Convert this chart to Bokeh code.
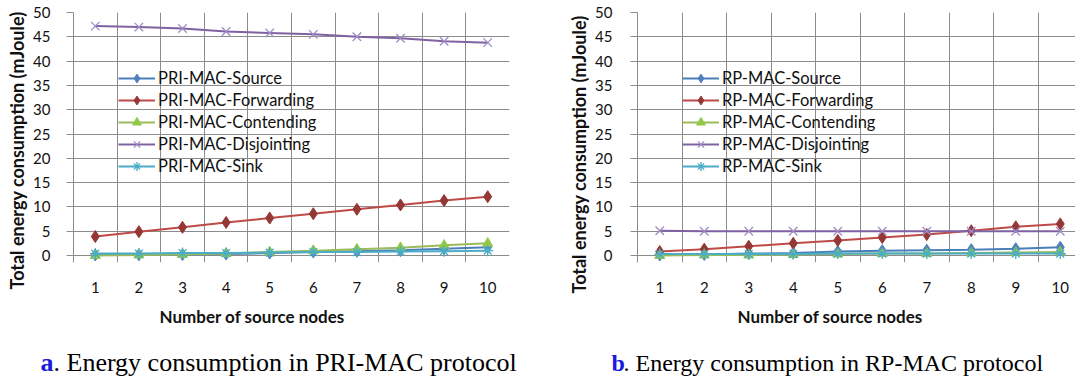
from bokeh.plotting import figure
from bokeh.models import FixedTicker, Legend, LegendItem, Range1d, Title
from bokeh.layouts import row, column
from bokeh.core.properties import value
from bokeh.embed import file_html
from bokeh.resources import INLINE

# ---------------- data ----------------
nodes = [1, 2, 3, 4, 5, 6, 7, 8, 9, 10]
y_ticks = [0, 5, 10, 15, 20, 25, 30, 35, 40, 45, 50]

pri_names = ["PRI-MAC-Source", "PRI-MAC-Forwarding", "PRI-MAC-Contending",
             "PRI-MAC-Disjointing", "PRI-MAC-Sink"]
pri_source = [0.1, 0.15, 0.2, 0.3, 0.5, 0.7, 0.9, 1.1, 1.4, 1.7]
pri_forwarding = [3.9, 4.9, 5.8, 6.8, 7.7, 8.6, 9.5, 10.4, 11.3, 12.1]
pri_contending = [0.0, 0.1, 0.2, 0.4, 0.7, 1.0, 1.3, 1.6, 2.1, 2.5]
pri_disjointing = [47.2, 47.0, 46.7, 46.1, 45.8, 45.5, 45.0, 44.7, 44.1, 43.8]
pri_sink = [0.4, 0.4, 0.5, 0.5, 0.6, 0.7, 0.7, 0.8, 0.9, 1.0]

rp_names = ["RP-MAC-Source", "RP-MAC-Forwarding", "RP-MAC-Contending",
            "RP-MAC-Disjointing", "RP-MAC-Sink"]
rp_source = [0.1, 0.2, 0.4, 0.5, 0.8, 1.0, 1.1, 1.2, 1.4, 1.7]
rp_forwarding = [0.8, 1.3, 1.9, 2.5, 3.1, 3.7, 4.3, 5.1, 5.9, 6.5]
rp_contending = [0.0, 0.1, 0.1, 0.2, 0.3, 0.4, 0.4, 0.5, 0.6, 0.7]
rp_disjointing = [5.1, 5.0, 5.0, 5.0, 5.0, 5.0, 5.0, 5.0, 5.0, 5.0]
rp_sink = [0.3, 0.3, 0.3, 0.3, 0.4, 0.4, 0.4, 0.4, 0.4, 0.4]

x_title = "Number of source nodes"
y_title = "Total energy consumption (mJoule)"
cap_letters = ["a", "b"]
cap_texts = [". Energy consumption in PRI-MAC protocol",
             ". Energy consumption in RP-MAC protocol"]

# ---------------- styles ----------------
FONT = "Lato"
GRID = "#8c8c8c"
TXT = "#111111"
styles = [
    # line color, marker, marker color, marker size
    ("#4A7EBB", "diamond", "#4F81BD", 12),
    ("#BE4B48", "diamond", "#953735", 12),
    ("#9BBB59", "triangle", "#92C84A", 10),
    ("#7F62A1", "x", "#A08CC4", 12),
    ("#4BACC6", "asterisk", "#4BACC6", 11),
]

FRAME_TOP = 12
FRAME_H = 250
CHART_H = 335
PX_Y = 243.0 / 50.0
Y0 = -(FRAME_H - 243) / PX_Y


def make_chart(series, names, width, left_border, frame_w, x_end,
               label_standoff, ytitle_offset, xtitle_offset):
    p = figure(width=width, height=CHART_H, output_backend="svg",
               toolbar_location=None,
               x_range=Range1d(0.5, x_end), y_range=Range1d(Y0, 50),
               min_border_left=left_border,
               min_border_right=width - left_border - frame_w,
               min_border_top=FRAME_TOP,
               min_border_bottom=CHART_H - FRAME_TOP - FRAME_H)
    p.outline_line_color = None
    p.background_fill_color = "white"
    p.border_fill_color = "white"

    # x axis: labels at category centres
    p.xaxis.ticker = FixedTicker(ticks=nodes)
    p.xaxis.major_tick_line_color = None
    p.xaxis.minor_tick_line_color = None
    p.xaxis.axis_line_color = None
    p.xaxis.major_label_standoff = 13
    p.xaxis.major_label_text_font = FONT
    p.xaxis.major_label_text_font_size = "15px"
    p.xaxis.major_label_text_color = TXT

    # y axis
    p.yaxis.ticker = FixedTicker(ticks=y_ticks)
    p.yaxis.axis_line_color = GRID
    p.yaxis.major_tick_line_color = GRID
    p.yaxis.major_tick_out = 7
    p.yaxis.major_tick_in = 0
    p.yaxis.minor_tick_line_color = None
    p.yaxis.major_label_standoff = label_standoff
    p.yaxis.major_label_text_font = FONT
    p.yaxis.major_label_text_font_size = "15px"
    p.yaxis.major_label_text_color = TXT

    # grids: vertical lines between categories
    p.xgrid.ticker = FixedTicker(ticks=[i + 0.5 for i in range(0, 11)])
    p.xgrid.grid_line_color = GRID
    p.ygrid.ticker = FixedTicker(ticks=y_ticks)
    p.ygrid.grid_line_color = GRID

    items = []
    for ys, name, (lc, mk, mc, ms) in zip(series, names, styles):
        lr = p.line(nodes, ys, line_color=lc, line_width=2)
        if mk in ("x", "asterisk"):
            sr = p.scatter(nodes, ys, marker=mk, size=ms, line_color=mc, line_width=1.3)
        else:
            sr = p.scatter(nodes, ys, marker=mk, size=ms, fill_color=mc, line_color=mc)
        items.append(LegendItem(label=name, renderers=[lr, sr]))

    legend = Legend(items=items, location=(45, 85))
    legend.glyph_width = 37
    legend.glyph_height = 22
    legend.label_height = 22
    legend.spacing = 0
    legend.padding = 0
    legend.margin = 0
    legend.label_standoff = 3
    legend.border_line_color = None
    legend.background_fill_alpha = 0
    legend.label_text_font = FONT
    legend.label_text_font_size = "16.5px"
    legend.label_text_color = TXT
    p.add_layout(legend)

    p.add_layout(Title(text=y_title, align="left", offset=ytitle_offset, standoff=6,
                       text_font=FONT, text_font_size="18px", text_font_style="bold",
                       text_color=TXT), "left")
    p.add_layout(Title(text=x_title, align="left", offset=xtitle_offset, standoff=16,
                       text_font=FONT, text_font_size="17px", text_font_style="bold",
                       text_color=TXT), "below")
    return p


pA = make_chart([pri_source, pri_forwarding, pri_contending, pri_disjointing, pri_sink],
                pri_names, width=560, left_border=73, frame_w=436,
                x_end=10.5, label_standoff=16, ytitle_offset=-27, xtitle_offset=86)
pB = make_chart([rp_source, rp_forwarding, rp_contending, rp_disjointing, rp_sink],
                rp_names, width=515, left_border=77, frame_w=438,
                x_end=0.5 + 438 / 44.5, label_standoff=18, ytitle_offset=-31,
                xtitle_offset=100)

# captions underneath the two charts
cap = figure(width=1075, height=45, output_backend="svg", toolbar_location=None,
             x_range=Range1d(0, 1075), y_range=Range1d(0, 45), min_border=0)
cap.outline_line_color = None
cap.axis.visible = False
cap.grid.visible = False
cap_x = [40, 611]
cap_y = [18, 18]
cap_sizes = ["26px", "24px"]
cap_gap = [13, 12]
for i in range(2):
    cap.text(x=[cap_x[i]], y=[cap_y[i]], text=[cap_letters[i]],
             text_font=value("Liberation Serif"), text_font_size=value(cap_sizes[i]),
             text_font_style=value("bold"), text_color="#1a1adc",
             text_baseline="middle", text_align="left")
    cap.text(x=[cap_x[i] + cap_gap[i]], y=[cap_y[i]], text=[cap_texts[i]],
             text_font=value("Liberation Serif"), text_font_size=value(cap_sizes[i]),
             text_color="#000000", text_baseline="middle", text_align="left")

layout = column(row(pA, pB), cap)
open("out.html", "w").write(file_html(layout, INLINE))
